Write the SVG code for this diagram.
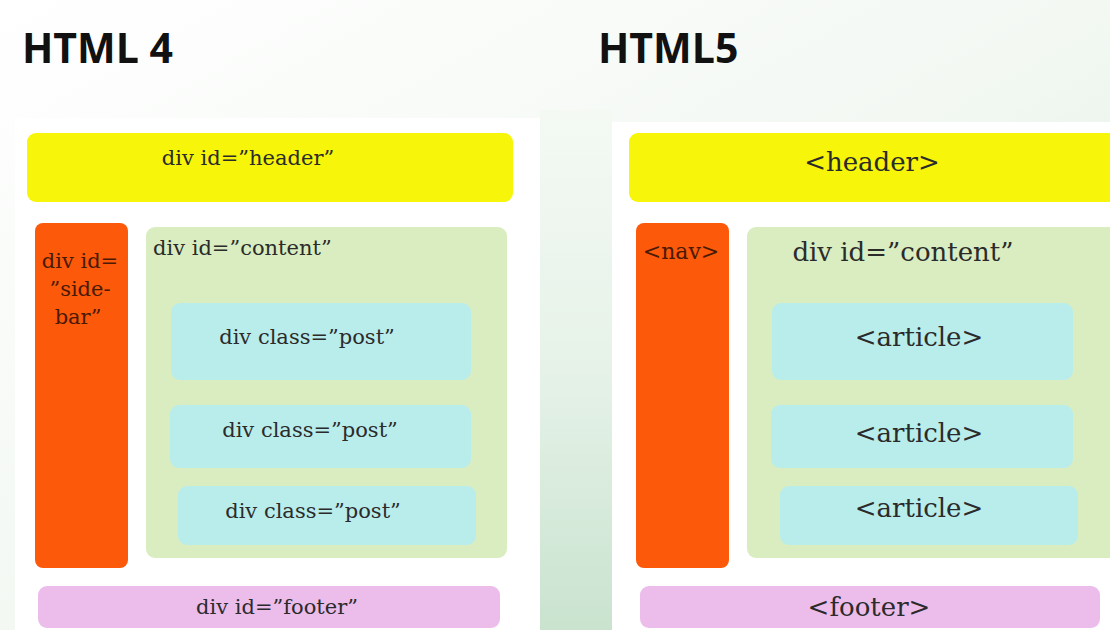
<svg xmlns="http://www.w3.org/2000/svg" width="1110" height="630" viewBox="0 0 1110 630">
<defs>
<linearGradient id="bg" x1="0" y1="0" x2="1" y2="1">
<stop offset="0" stop-color="#ffffff"/>
<stop offset="0.5" stop-color="#f3f8f3"/>
<stop offset="1" stop-color="#d9ecdc"/>
</linearGradient>
<linearGradient id="band" x1="0" y1="0" x2="0" y2="1">
<stop offset="0" stop-color="#f4f9f4"/>
<stop offset="0.5" stop-color="#e6f2e8"/>
<stop offset="1" stop-color="#c9e3cf"/>
</linearGradient>
</defs>
<style>
.title{font-family:"Open Sans","Noto Sans","DejaVu Sans",sans-serif;font-weight:bold;font-size:41px;fill:#111}
.t{font-family:"DejaVu Serif","Liberation Serif",serif;fill:#2b2b2b;text-anchor:middle}
.s{font-size:21px}
.b{font-size:26px}
.dk{fill:#4a1a05}
.yel{fill:#f6f50a}
.org{fill:#fc590a}
.grn{fill:#d9edc0}
.cyn{fill:#b9edec}
.pnk{fill:#ecbdeb}
</style>
<rect width="1110" height="630" fill="url(#bg)"/>
<rect x="540" y="110" width="72" height="520" fill="url(#band)"/>
<rect x="15" y="118" width="525" height="512" fill="#ffffff"/>
<rect x="612" y="122" width="498" height="508" fill="#ffffff"/>
<text class="title" x="22" y="63">HTML 4</text>
<text class="title" x="598" y="63">HTML5</text>
<g id="l-header"><rect class="yel" x="27" y="133" width="486" height="69" rx="9"/><text class="t s" x="248" y="165">div id=”header”</text></g>
<g id="l-sidebar"><rect class="org" x="35" y="223" width="93" height="345" rx="8"/><text class="t s dk" x="80" y="268">div id=</text><text class="t s dk" x="80" y="296">”side-</text><text class="t s dk" x="78" y="324">bar”</text></g>
<g id="l-content"><rect class="grn" x="146" y="227" width="361" height="331" rx="9"/><text class="t s" x="153" y="255" style="text-anchor:start">div id=”content”</text></g>
<g id="l-post1"><rect class="cyn" x="171" y="303" width="300" height="77" rx="9"/><text class="t s" x="307" y="344">div class=”post”</text></g>
<g id="l-post2"><rect class="cyn" x="170" y="405" width="301" height="63" rx="9"/><text class="t s" x="310" y="437">div class=”post”</text></g>
<g id="l-post3"><rect class="cyn" x="178" y="486" width="298" height="59" rx="9"/><text class="t s" x="313" y="518">div class=”post”</text></g>
<g id="l-footer"><rect class="pnk" x="38" y="586" width="462" height="42" rx="9"/><text class="t s" x="277" y="614">div id=”footer”</text></g>
<g id="r-header"><rect class="yel" x="629" y="133" width="490" height="69" rx="9"/><text class="t b" x="872" y="171">&lt;header&gt;</text></g>
<g id="r-nav"><rect class="org" x="636" y="223" width="93" height="345" rx="8"/><text class="t dk" x="681" y="259" style="font-size:22px">&lt;nav&gt;</text></g>
<g id="r-content"><rect class="grn" x="747" y="227" width="372" height="331" rx="9"/><text class="t b" x="903" y="261">div id=”content”</text></g>
<g id="r-article1"><rect class="cyn" x="772" y="303" width="301" height="77" rx="9"/><text class="t b" x="919" y="346">&lt;article&gt;</text></g>
<g id="r-article2"><rect class="cyn" x="771" y="405" width="302" height="63" rx="9"/><text class="t b" x="919" y="442">&lt;article&gt;</text></g>
<g id="r-article3"><rect class="cyn" x="780" y="486" width="298" height="59" rx="9"/><text class="t b" x="919" y="517">&lt;article&gt;</text></g>
<g id="r-footer"><rect class="pnk" x="640" y="586" width="460" height="42" rx="9"/><text class="t b" x="869" y="616">&lt;footer&gt;</text></g>
<g id="connectors"/>
</svg>
